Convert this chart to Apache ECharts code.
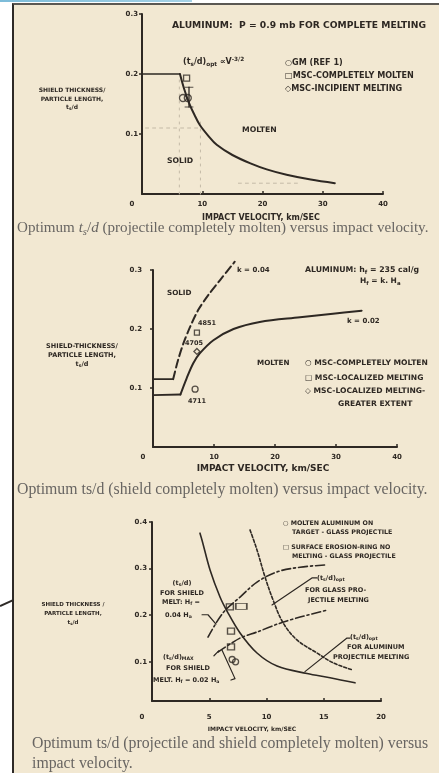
<!DOCTYPE html>
<html>
<head>
<meta charset="utf-8">
<script src="https://cdn.jsdelivr.net/npm/echarts@6/dist/echarts.min.js"></script>
<style>
html,body{margin:0;padding:0;background:#fff;width:439px;height:773px;overflow:hidden;}
#topline{position:absolute;left:0;top:0;width:192px;height:2px;background:linear-gradient(90deg,#7dbcd9,#a6d2e6);}
#frame{position:absolute;left:12px;top:3px;width:427px;height:770px;background:#f2e8d2;border-left:2px solid #2e2a27;border-top:2px solid #5b5853;box-sizing:border-box;}
#tail{position:absolute;left:0;top:605px;width:15px;height:2px;background:#2e2a27;transform-origin:0 50%;transform:rotate(-24deg);}
#chart{position:absolute;left:0;top:0;width:439px;height:773px;filter:blur(0.3px);}
#notes{position:absolute;left:0;top:0;width:439px;height:773px;filter:blur(0.3px);}
.t{position:absolute;font-family:"DejaVu Sans",sans-serif;font-weight:bold;color:#2e2823;white-space:nowrap;line-height:1;transform:translateY(-50%);}
.t.c{transform:translate(-50%,-50%);}
.t sub{font-size:0.72em;vertical-align:-0.3em;line-height:0;}
.t sup{font-size:0.72em;vertical-align:0.45em;line-height:0;}
.cap{position:absolute;font-family:"Liberation Serif","Times New Roman",serif;font-size:15.8px;line-height:20px;color:#686562;white-space:nowrap;}
.cap sub{font-size:0.7em;vertical-align:-0.25em;line-height:0;}
</style>
</head>
<body>
<div id="topline"></div>
<div id="frame"></div>
<div id="tail"></div>
<div id="chart"></div>
<div id="notes"></div>
<div class="cap" style="left:17px;top:217px;font-size:15.1px;">Optimum <i>t<sub>s</sub></i>/<i>d</i> (projectile completely molten) versus impact velocity.</div>
<div class="cap" style="left:17px;top:479px;">Optimum ts/d (shield completely molten) versus impact velocity.</div>
<div class="cap" style="left:32px;top:733px;">Optimum ts/d (projectile and shield completely molten) versus<br>impact velocity.</div>
<script>
// ---------- Panel 1: projectile completely molten ----------
const p1XTicks = [0, 10, 20, 30, 40];
const p1YTicks = [0.1, 0.2, 0.3];
const p1Plateau = [[0, 0.2], [6.3, 0.2]];
const p1OptCurve = [[6.3, 0.2], [7.0, 0.175], [7.8, 0.152], [8.7, 0.132], [9.6, 0.115], [11, 0.097],
  [12.4, 0.082], [15, 0.065], [18, 0.051], [20.7, 0.041], [24, 0.032], [28, 0.024], [32, 0.018]];
const p1GM = [[6.8, 0.16]];
const p1CompletelyMolten = [[7.4, 0.193]];
const p1Incipient = [[7.6, 0.16]];
const p1ErrorBar = [[7.8, 0.178], [7.8, 0.145]];
const p1FaintH = [[0.6, 0.11], [9.8, 0.11]];
const p1FaintV1 = [[6.2, 0], [6.2, 0.19]];
const p1FaintV2 = [[9.7, 0], [9.7, 0.12]];
const p1FaintLow = [[16, 0.018], [26, 0.018]];

// ---------- Panel 2: shield completely molten ----------
const p2XTicks = [0, 10, 20, 30, 40];
const p2YTicks = [0.1, 0.2, 0.3];
const p2K002Plateau = [[0, 0.088], [4.5, 0.089]];
const p2K002Curve = [[4.5, 0.089], [5.5, 0.116], [6.6, 0.142], [7.7, 0.159], [9.9, 0.181], [13.2, 0.2],
  [17.5, 0.212], [24.1, 0.22], [29.5, 0.226], [34.2, 0.231]];
const p2K004Plateau = [[0, 0.115], [3.3, 0.115]];
const p2K004Curve = [[3.3, 0.115], [4.1, 0.147], [5.0, 0.176], [6.1, 0.204], [7.4, 0.232], [9.1, 0.258],
  [11, 0.283], [13.4, 0.314]];
const p2Localized = [[7.2, 0.194]];        // test 4851
const p2GreaterExtent = [[7.2, 0.162]];    // test 4705
const p2CompletelyMolten = [[6.9, 0.098]]; // test 4711

// ---------- Panel 3: projectile and shield completely molten ----------
const p3XTicks = [0, 5, 10, 15, 20];
const p3YTicks = [0.1, 0.2, 0.3, 0.4];
const p3AluminumOpt = [[4.19, 0.376], [4.37, 0.361], [5.07, 0.297], [5.94, 0.239], [6.55, 0.209],
  [7.69, 0.162], [9.17, 0.119], [10.92, 0.091], [13.54, 0.075], [15.55, 0.066], [17.73, 0.055]];
const p3GlassOpt = [[8.56, 0.383], [9.17, 0.34], [9.87, 0.282], [10.57, 0.233], [11.44, 0.184],
  [12.66, 0.147], [14.41, 0.119], [15.81, 0.098], [17.47, 0.083]];
const p3ShieldMelt004 = [[4.89, 0.153], [6.2, 0.205], [7.69, 0.239], [9.17, 0.271], [10.92, 0.293],
  [12.93, 0.303], [15.28, 0.308]];
const p3ShieldMelt002 = [[5.76, 0.121], [7.69, 0.151], [9.17, 0.164], [11.18, 0.183], [12.93, 0.196],
  [15.28, 0.211]];
const p3ErosionRing = [[6.8, 0.218], [6.9, 0.166], [6.9, 0.132]];
const p3ErosionRingWide = [[7.8, 0.219]];
const p3MoltenAluminum = [[7.0, 0.105], [7.3, 0.1]];
const p3LeaderGlass = [[10.48, 0.222], [13.97, 0.28], [14.41, 0.28]];
const p3LeaderAluminum = [[13.36, 0.079], [17.03, 0.151], [17.3, 0.151]];
const p3Leader004 = [[4.37, 0.201], [4.89, 0.201], [5.59, 0.181]];
const p3LeaderMax = [[5.41, 0.113], [5.85, 0.124]];
const p3Leader002 = [[6.9, 0.061], [7.25, 0.064], [6.1, 0.126]];

// ---------- drawing ----------
const INK = '#2e2823';
const FAINT = '#c4baa7';
const FONT = 'DejaVu Sans';

function xAxisFor(gi, min, max, interval, margin) {
  return {
    gridIndex: gi, type: 'value', min: min, max: max, interval: interval,
    axisLine: { show: true, lineStyle: { color: INK, width: 2 } },
    axisTick: { show: true, inside: true, length: 3, lineStyle: { color: INK, width: 1.5 } },
    splitLine: { show: false },
    axisLabel: {
      margin: margin, color: INK, fontFamily: FONT, fontWeight: 'bold', fontSize: 7,
      formatter: v => v === 0 ? '{z|0}' : String(v),
      rich: { z: { padding: [0, 20, 0, 0], color: INK, fontFamily: FONT, fontWeight: 'bold', fontSize: 7 } }
    }
  };
}
function yAxisFor(gi, min, max, ticks, margin) {
  return {
    gridIndex: gi, type: 'value', min: min, max: max,
    axisLine: { show: true, lineStyle: { color: INK, width: 2 } },
    axisTick: { show: true, length: 3, customValues: ticks, lineStyle: { color: INK, width: 1.5 } },
    splitLine: { show: false },
    axisLabel: {
      margin: margin, color: INK, fontFamily: FONT, fontWeight: 'bold', fontSize: 7,
      customValues: ticks, formatter: v => v.toFixed(1)
    }
  };
}
function line(gi, data, o) {
  o = o || {};
  return {
    type: 'line', xAxisIndex: gi, yAxisIndex: gi, data: data, symbol: 'none', clip: false, silent: true,
    smooth: o.smooth || false, z: o.z || 3,
    lineStyle: { color: o.color || INK, width: o.width || 2, type: o.dash || 'solid', cap: 'round', join: 'round' }
  };
}
function marks(gi, data, symbol, size) {
  return {
    type: 'scatter', xAxisIndex: gi, yAxisIndex: gi, data: data, symbol: symbol, symbolSize: size,
    clip: false, silent: true, z: 5,
    itemStyle: { color: 'rgba(0,0,0,0)', borderColor: INK, borderWidth: 1.3 }
  };
}

const chart = echarts.init(document.getElementById('chart'), null, { renderer: 'canvas' });
chart.setOption({
  animation: false,
  backgroundColor: 'transparent',
  grid: [
    { left: 142, top: 14, width: 241, height: 180 },
    { left: 153, top: 270, width: 244, height: 177 },
    { left: 152, top: 522, width: 229, height: 179 }
  ],
  xAxis: [
    xAxisFor(0, p1XTicks[0], p1XTicks[p1XTicks.length - 1], 10, 7),
    xAxisFor(1, p2XTicks[0], p2XTicks[p2XTicks.length - 1], 10, 7),
    xAxisFor(2, p3XTicks[0], p3XTicks[p3XTicks.length - 1], 5, 13)
  ],
  yAxis: [
    yAxisFor(0, 0, 0.3, p1YTicks, 4),
    yAxisFor(1, 0, 0.3, p2YTicks, 11),
    yAxisFor(2, 0.016, 0.4, p3YTicks, 5)
  ],
  series: [
    // panel 1
    line(0, p1FaintH, { color: FAINT, width: 1, dash: [3, 4], z: 1 }),
    line(0, p1FaintV1, { color: FAINT, width: 1, dash: [2, 5], z: 1 }),
    line(0, p1FaintV2, { color: FAINT, width: 1, dash: [2, 5], z: 1 }),
    line(0, p1FaintLow, { color: FAINT, width: 1, dash: [3, 4], z: 1 }),
    line(0, p1Plateau, { width: 1.3 }),
    line(0, p1OptCurve, { smooth: 0.35, width: 2 }),
    line(0, p1ErrorBar, { width: 1.3 }),
    marks(0, [p1ErrorBar[0], p1ErrorBar[1]], 'rect', [5, 0.6]),
    marks(0, p1GM, 'circle', 7),
    marks(0, p1Incipient, 'circle', 7),
    marks(0, p1CompletelyMolten, 'rect', 6),
    // panel 2
    line(1, p2K002Plateau, { width: 1.8 }),
    line(1, p2K002Curve, { smooth: 0.35, width: 2 }),
    line(1, p2K004Plateau, { width: 1.8 }),
    line(1, p2K004Curve, { smooth: 0.3, width: 2, dash: [8, 4] }),
    marks(1, p2Localized, 'rect', 5),
    marks(1, p2GreaterExtent, 'diamond', 6),
    marks(1, p2CompletelyMolten, 'circle', 6),
    // panel 3
    line(2, p3AluminumOpt, { smooth: 0.35, width: 1.6 }),
    line(2, p3GlassOpt, { smooth: 0.35, width: 1.6, dash: [3, 2] }),
    line(2, p3ShieldMelt004, { smooth: 0.35, width: 1.6, dash: [9, 3, 2, 3] }),
    line(2, p3ShieldMelt002, { smooth: 0.3, width: 1.6, dash: [9, 3, 2, 3] }),
    line(2, p3LeaderGlass, { width: 1.2 }),
    line(2, p3LeaderAluminum, { width: 1.2 }),
    line(2, p3Leader004, { width: 1.2 }),
    line(2, p3LeaderMax, { width: 1.2 }),
    line(2, p3Leader002, { width: 1.2 }),
    marks(2, p3ErosionRing, 'rect', [7, 6]),
    marks(2, p3ErosionRingWide, 'rect', [11, 6]),
    marks(2, p3MoltenAluminum, 'circle', 6)
  ]
});

// ---------- lettering ----------
// [left or centre x, centre y, text, size, centred]
const notes = [
  [172, 25, 'ALUMINUM: &nbsp;P = 0.9 mb FOR COMPLETE MELTING', 9.2],
  [183, 62, '(t<sub>s</sub>/d)<sub>opt</sub> ∝V<sup>-3/2</sup>', 8],
  [285, 62, '○GM (REF 1)', 8.1],
  [285, 75, '□MSC-COMPLETELY MOLTEN', 8.1],
  [285, 88, '◇MSC-INCIPIENT MELTING', 8.1],
  [242, 130, 'MOLTEN', 7.7],
  [167, 161, 'SOLID', 7.7],
  [72, 90, 'SHIELD THICKNESS/', 6, true],
  [72, 99, 'PARTICLE LENGTH,', 6, true],
  [72, 107, 't<sub>s</sub>/d', 6, true],
  [261, 218, 'IMPACT VELOCITY, km/SEC', 8, true],

  [167, 293, 'SOLID', 7.2],
  [237, 270, 'k = 0.04', 7],
  [305, 270, 'ALUMINUM: h<sub>f</sub> = 235 cal/g', 7.8],
  [360, 281, 'H<sub>f</sub> = k. H<sub>a</sub>', 7.5],
  [347, 321, 'k = 0.02', 7],
  [257, 363, 'MOLTEN', 7.2],
  [305, 363, '○ MSC-COMPLETELY MOLTEN', 7.6],
  [305, 378, '□ MSC-LOCALIZED MELTING', 7.6],
  [305, 391, '◇ MSC-LOCALIZED MELTING-', 7.6],
  [338, 404, 'GREATER EXTENT', 7.6],
  [198, 323, '4851', 6.5],
  [185, 343, '4705', 6.5],
  [188, 401, '4711', 6.5],
  [82, 346, 'SHIELD-THICKNESS/', 6.5, true],
  [82, 355, 'PARTICLE LENGTH,', 6.5, true],
  [82, 364, 't<sub>s</sub>/d', 6.5, true],
  [263, 468, 'IMPACT VELOCITY, km/SEC', 9, true],

  [283, 523, '○ MOLTEN ALUMINUM ON', 6.3],
  [292, 532, 'TARGET - GLASS PROJECTILE', 6.3],
  [283, 547, '□ SURFACE EROSION-RING NO', 6.3],
  [292, 556, 'MELTING - GLASS PROJECTILE', 6.3],
  [182, 583, '(t<sub>s</sub>/d)', 6.5, true],
  [182, 593, 'FOR SHIELD', 6.5, true],
  [181, 602, 'MELT: H<sub>f</sub> =', 6.5, true],
  [165, 615, '0.04 H<sub>a</sub>', 6.5],
  [163, 657, '(t<sub>s</sub>/d)<sub>MAX</sub>', 6.5],
  [188, 668, 'FOR SHIELD', 6.5, true],
  [153, 680, 'MELT. H<sub>f</sub> = 0.02 H<sub>a</sub>', 6.5],
  [317, 578, '(t<sub>s</sub>/d)<sub>opt</sub>', 6.5],
  [305, 590, 'FOR GLASS PRO-', 6.5],
  [308, 600, 'JECTILE MELTING', 6.5],
  [350, 637, '(t<sub>s</sub>/d)<sub>opt</sub>', 6.5],
  [347, 647, 'FOR ALUMINUM', 6.5],
  [333, 657, 'PROJECTILE MELTING', 6.5],
  [73, 605, 'SHIELD THICKNESS /', 5.5, true],
  [73, 614, 'PARTICLE LENGTH,', 5.5, true],
  [73, 623, 't<sub>s</sub>/d', 5.5, true],
  [252, 729, 'IMPACT VELOCITY, km/SEC', 6, true]
];
const layer = document.getElementById('notes');
notes.forEach(([x, y, html, size, centred]) => {
  const d = document.createElement('div');
  d.className = centred ? 't c' : 't';
  d.style.left = x + 'px';
  d.style.top = y + 'px';
  d.style.fontSize = size + 'px';
  d.innerHTML = html;
  layer.appendChild(d);
});
</script>
</body>
</html>
